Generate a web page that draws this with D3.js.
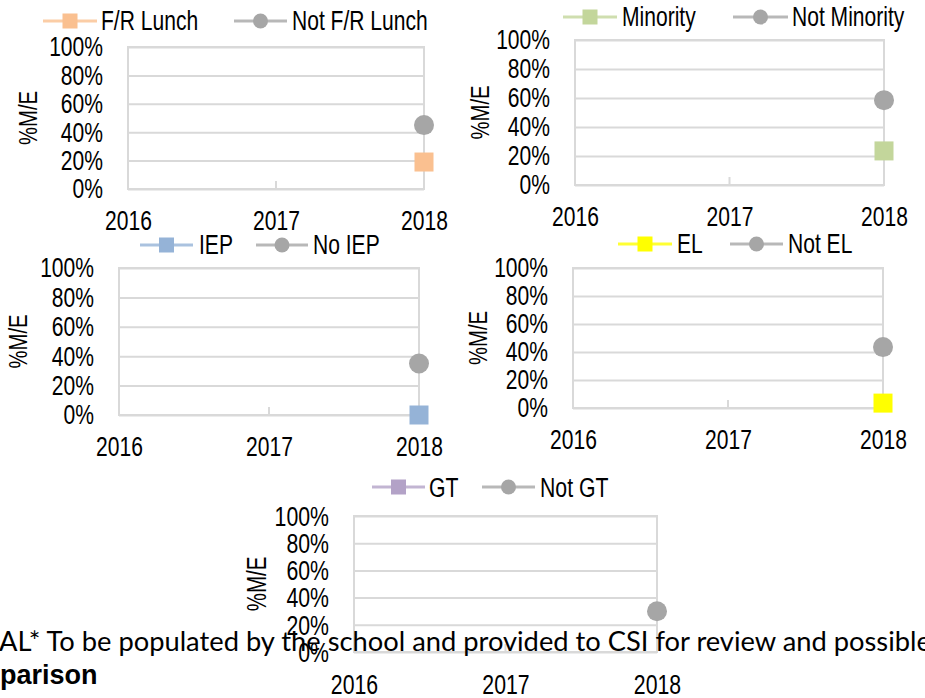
<!DOCTYPE html>
<html>
<head>
<meta charset="utf-8">
<style>
  html, body { margin: 0; padding: 0; background: #fff; }
  svg { display: block; }
  text { font-family: 'Liberation Sans', Arial, sans-serif; fill: #000; }
  .note { font-family: Lato, 'Open Sans', sans-serif; }
</style>
</head>
<body>
<script src="https://d3js.org/d3.v7.min.js"></script>
<script>
// data
var years = [2016, 2017, 2018];
var yTicks = [0, 0.2, 0.4, 0.6, 0.8, 1];
var focalNames = ["F/R Lunch", "Minority", "IEP", "EL", "GT"];
var compareNames = ["Not F/R Lunch", "Not Minority", "No IEP", "Not EL", "Not GT"];
var focalValues = [
  [null, null, 0.19],
  [null, null, 0.235],
  [null, null, 0.0],
  [null, null, 0.035],
  [null, null, null]
];
var compareValues = [
  [null, null, 0.45],
  [null, null, 0.585],
  [null, null, 0.35],
  [null, null, 0.435],
  [null, null, 0.30]
];
var axisTitle = "%M/E";
var noteLine1 = "AL* To be populated by the school and provided to CSI for review and possible";
var noteLine2 = "parison";

// styles
var focalColors = ["#FAC090", "#C3D69B", "#95B3D7", "#FFFF00", "#B3A2C7"];
var compareColor = "#A6A6A6";
var gridColor = "#D9D9D9";

// panel layout (pixel boxes measured off the page)
var panels = [
  {L: 128, R: 424, T: 47,  B: 189, titleX: 28,  legY: 21,  leg1: [43, 97, 101],  leg2: [234, 287, 292], fs: 27, sx: 0.78},
  {L: 575, R: 884, T: 40,  B: 185, titleX: 480, legY: 17,  leg1: [563, 617, 622], leg2: [733, 788, 792], fs: 27, sx: 0.78},
  {L: 119, R: 419, T: 268, B: 415, titleX: 18,  legY: 245, leg1: [140, 193, 199], leg2: [256, 308, 313], fs: 27, sx: 0.78},
  {L: 573, R: 883, T: 268, B: 408, titleX: 478, legY: 244, leg1: [618, 672, 677], leg2: [730, 783, 788], fs: 27, sx: 0.78},
  {L: 354, R: 657, T: 516, B: 652, titleX: 257, legY: 487, leg1: [372, 425, 429], leg2: [482, 535, 540], fs: 28, sx: 0.76}
];

var svg = d3.select("body").append("svg")
  .attr("width", 925)
  .attr("height", 698);

panels.forEach(function(p, i) {
  var g = svg.append("g");

  var x = d3.scalePoint().domain(years).range([p.L, p.R]);
  var y = d3.scaleLinear().domain([0, 1]).range([p.B, p.T]);

  // gridlines
  g.append("g")
    .attr("transform", "translate(" + p.L + ",0)")
    .call(d3.axisLeft(y).tickValues(yTicks).tickSize(-(p.R - p.L)).tickFormat(""))
    .call(function(a) {
      a.select(".domain").remove();
      a.selectAll("line").attr("stroke", gridColor).attr("stroke-width", 2);
    });

  // plot frame
  g.append("rect")
    .attr("x", p.L).attr("y", p.T)
    .attr("width", p.R - p.L).attr("height", p.B - p.T)
    .attr("fill", "none").attr("stroke", gridColor).attr("stroke-width", 2);

  // small inner ticks on x axis
  g.selectAll(".xt").data(years).enter().append("line")
    .attr("x1", function(d) { return x(d); })
    .attr("x2", function(d) { return x(d); })
    .attr("y1", p.B).attr("y2", p.B - 8)
    .attr("stroke", gridColor).attr("stroke-width", 2);

  // y axis labels
  g.append("g")
    .attr("transform", "translate(" + (p.L - 25) + ",0)")
    .call(d3.axisLeft(y).tickValues(yTicks).tickSize(0).tickPadding(0).tickFormat(d3.format(".0%")))
    .call(function(a) {
      a.select(".domain").remove();
      a.selectAll("text")
        .attr("font-size", p.fs)
        .attr("font-family", "'Liberation Sans', Arial, sans-serif")
        .attr("fill", "#000")
        .attr("dy", "0.33em")
        .attr("transform", "scale(" + p.sx + ",1)");
    });

  // x axis labels
  g.append("g")
    .attr("transform", "translate(0," + p.B + ")")
    .call(d3.axisBottom(x).tickSize(0).tickPadding(22))
    .call(function(a) {
      a.select(".domain").remove();
      a.selectAll("text")
        .attr("font-size", p.fs)
        .attr("font-family", "'Liberation Sans', Arial, sans-serif")
        .attr("fill", "#000")
        .attr("transform", "scale(" + p.sx + ",1)");
    });

  // y title
  g.append("text")
    .attr("transform", "translate(" + p.titleX + "," + ((p.T + p.B) / 2) + ") rotate(-90) scale(" + p.sx + ",1)")
    .attr("text-anchor", "middle")
    .attr("dy", "0.35em")
    .attr("font-size", p.fs - 1)
    .text(axisTitle);

  // series
  var series = [
    {name: focalNames[i], vals: focalValues[i], color: focalColors[i], shape: "square"},
    {name: compareNames[i], vals: compareValues[i], color: compareColor, shape: "circle"}
  ];

  var line = d3.line()
    .defined(function(d) { return d.v != null; })
    .x(function(d) { return x(d.year); })
    .y(function(d) { return y(d.v); });

  series.forEach(function(s) {
    var pts = years.map(function(yr, k) { return {year: yr, v: s.vals[k]}; });
    g.append("path")
      .datum(pts)
      .attr("d", line)
      .attr("fill", "none")
      .attr("stroke", s.color)
      .attr("stroke-width", 3);
    var on = pts.filter(function(d) { return d.v != null; });
    if (s.shape == "square") {
      g.selectAll(null).data(on).enter().append("rect")
        .attr("x", function(d) { return x(d.year) - 9.5; })
        .attr("y", function(d) { return y(d.v) - 9.5; })
        .attr("width", 19).attr("height", 19)
        .attr("fill", s.color);
    } else {
      g.selectAll(null).data(on).enter().append("circle")
        .attr("cx", function(d) { return x(d.year); })
        .attr("cy", function(d) { return y(d.v); })
        .attr("r", 10)
        .attr("fill", s.color);
    }
  });

  // legend
  [p.leg1, p.leg2].forEach(function(lg, k) {
    var s = series[k];
    var mid = (lg[0] + lg[1]) / 2;
    g.append("line")
      .attr("x1", lg[0]).attr("x2", lg[1])
      .attr("y1", p.legY).attr("y2", p.legY)
      .attr("stroke", s.color).attr("stroke-width", 3)
      .attr("stroke-opacity", 0.8);
    if (s.shape == "square") {
      g.append("rect")
        .attr("x", mid - 7.5).attr("y", p.legY - 7.5)
        .attr("width", 15).attr("height", 15)
        .attr("fill", s.color);
    } else {
      g.append("circle")
        .attr("cx", mid).attr("cy", p.legY).attr("r", 7.5)
        .attr("fill", s.color);
    }
    g.append("text")
      .attr("transform", "translate(" + lg[2] + "," + p.legY + ") scale(" + p.sx + ",1)")
      .attr("dy", "0.35em")
      .attr("font-size", p.fs)
      .text(s.name);
  });
});

// page text lying over the last chart
svg.append("text")
  .attr("class", "note")
  .attr("x", -1).attr("y", 651)
  .attr("font-size", 27.3)
  .attr("fill", "#111")
  .text(noteLine1);

svg.append("text")
  .attr("x", 0).attr("y", 684)
  .attr("font-size", 27)
  .attr("font-weight", "bold")
  .text(noteLine2);
</script>
</body>
</html>
